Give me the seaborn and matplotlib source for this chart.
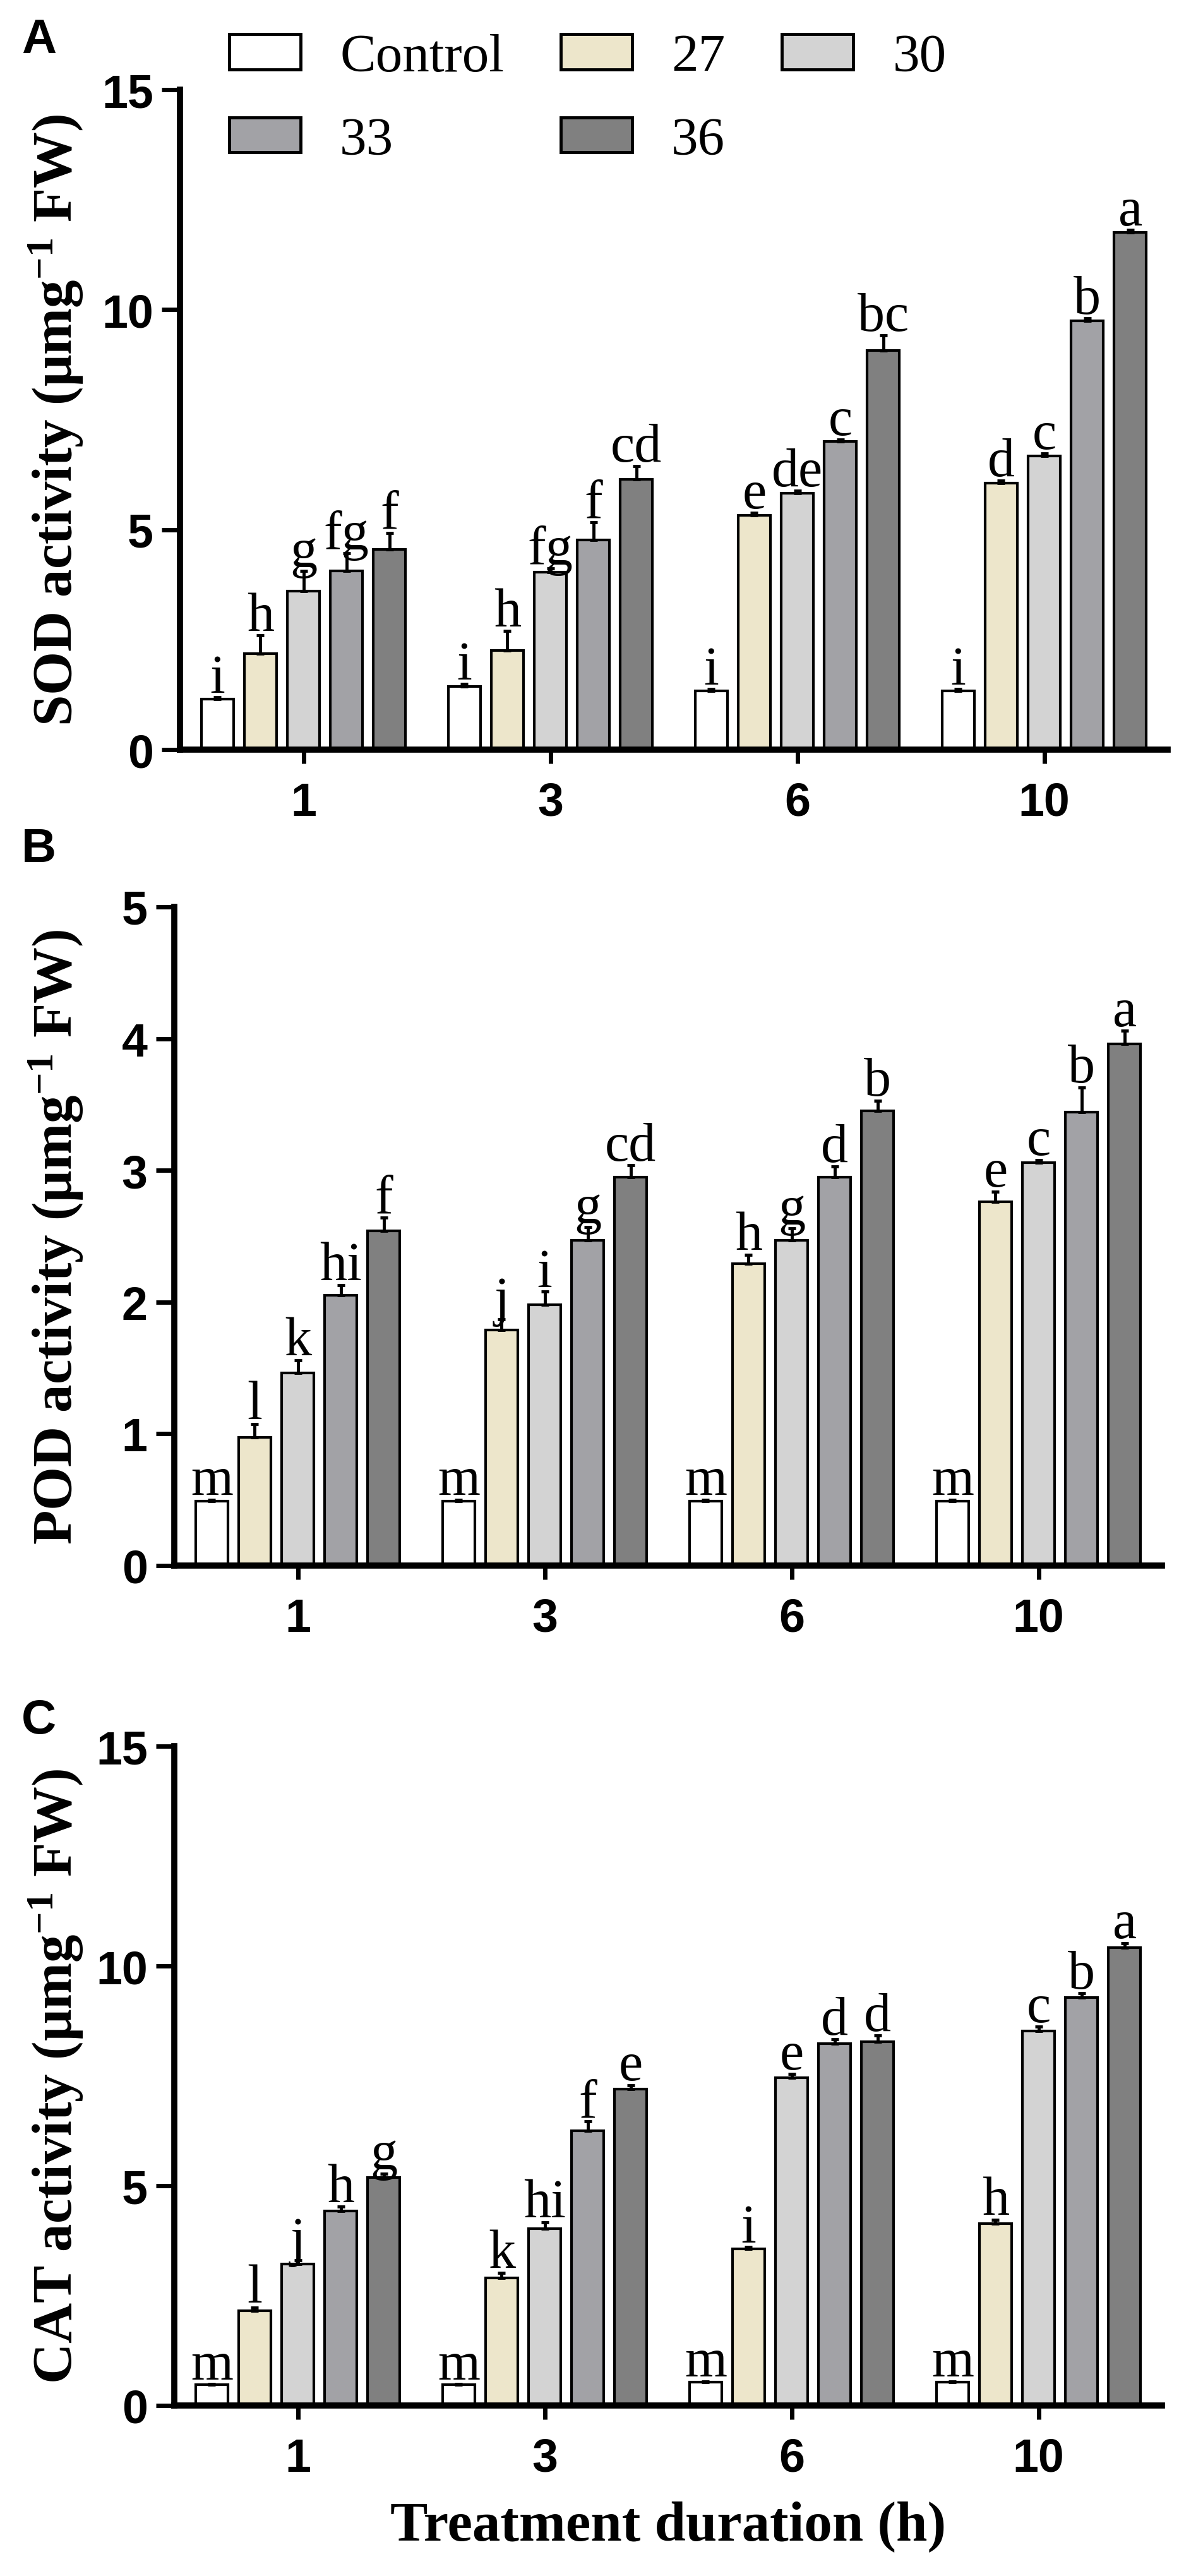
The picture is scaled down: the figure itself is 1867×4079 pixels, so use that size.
import matplotlib
matplotlib.use("Agg")
import matplotlib.pyplot as plt
import matplotlib.transforms as mtransforms
from matplotlib.patches import Patch
from matplotlib.font_manager import FontProperties
import numpy as np
import pandas as pd
import seaborn as sns

# ---------------- data ----------------
times = ["1", "3", "6", "10"]
temps = ["Control", "27", "30", "33", "36"]
colors = ["#FFFFFF", "#EDE6CB", "#D3D3D3", "#A2A2A6", "#808080"]

# SOD activity (series = temperature, values over times 1,3,6,10 h)
sod_control = [1.15, 1.44, 1.34, 1.34]
sod_27 = [2.18, 2.26, 5.33, 6.06]
sod_30 = [3.60, 4.03, 5.83, 6.68]
sod_33 = [4.06, 4.76, 7.00, 9.75]
sod_36 = [4.55, 6.14, 9.07, 11.76]
sod_err_control = [0.04, 0.05, 0.04, 0.04]
sod_err_27 = [0.42, 0.44, 0.05, 0.05]
sod_err_30 = [0.46, 0.09, 0.05, 0.05]
sod_err_33 = [0.40, 0.41, 0.05, 0.05]
sod_err_36 = [0.38, 0.30, 0.34, 0.05]
sod_let_control = ["i", "i", "i", "i"]
sod_let_27 = ["h", "h", "e", "d"]
sod_let_30 = ["g", "fg", "de", "c"]
sod_let_33 = ["fg", "f", "c", "b"]
sod_let_36 = ["f", "cd", "bc", "a"]

# POD activity
pod_control = [0.49, 0.49, 0.49, 0.49]
pod_27 = [0.975, 1.79, 2.29, 2.76]
pod_30 = [1.46, 1.98, 2.47, 3.06]
pod_33 = [2.05, 2.47, 2.95, 3.44]
pod_36 = [2.54, 2.95, 3.45, 3.96]
pod_err_control = [0.01, 0.01, 0.01, 0.01]
pod_err_27 = [0.10, 0.08, 0.07, 0.08]
pod_err_30 = [0.10, 0.10, 0.09, 0.02]
pod_err_33 = [0.08, 0.10, 0.08, 0.19]
pod_err_36 = [0.10, 0.09, 0.08, 0.10]
pod_let_control = ["m", "m", "m", "m"]
pod_let_27 = ["l", "j", "h", "e"]
pod_let_30 = ["k", "i", "g", "c"]
pod_let_33 = ["hi", "g", "d", "b"]
pod_let_36 = ["f", "cd", "b", "a"]

# CAT activity
cat_control = [0.47, 0.47, 0.53, 0.53]
cat_27 = [2.15, 2.90, 3.57, 4.14]
cat_30 = [3.22, 4.02, 7.45, 8.52]
cat_33 = [4.42, 6.25, 8.23, 9.28]
cat_36 = [5.18, 7.20, 8.27, 10.42]
cat_err_control = [0.02, 0.02, 0.02, 0.02]
cat_err_27 = [0.08, 0.12, 0.03, 0.09]
cat_err_30 = [0.09, 0.15, 0.09, 0.10]
cat_err_33 = [0.10, 0.21, 0.10, 0.10]
cat_err_36 = [0.10, 0.09, 0.15, 0.10]
cat_let_control = ["m", "m", "m", "m"]
cat_let_27 = ["l", "k", "i", "h"]
cat_let_30 = ["j", "hi", "e", "c"]
cat_let_33 = ["h", "f", "d", "b"]
cat_let_36 = ["g", "e", "d", "a"]

panels = [
    dict(tag="A", name="SOD",
         means=[sod_control, sod_27, sod_30, sod_33, sod_36],
         errs=[sod_err_control, sod_err_27, sod_err_30, sod_err_33, sod_err_36],
         lets=[sod_let_control, sod_let_27, sod_let_30, sod_let_33, sod_let_36],
         ymax=15, yticks=[0, 5, 10, 15]),
    dict(tag="B", name="POD",
         means=[pod_control, pod_27, pod_30, pod_33, pod_36],
         errs=[pod_err_control, pod_err_27, pod_err_30, pod_err_33, pod_err_36],
         lets=[pod_let_control, pod_let_27, pod_let_30, pod_let_33, pod_let_36],
         ymax=5, yticks=[0, 1, 2, 3, 4, 5]),
    dict(tag="C", name="CAT",
         means=[cat_control, cat_27, cat_30, cat_33, cat_36],
         errs=[cat_err_control, cat_err_27, cat_err_30, cat_err_33, cat_err_36],
         lets=[cat_let_control, cat_let_27, cat_let_30, cat_let_33, cat_let_36],
         ymax=15, yticks=[0, 5, 10, 15]),
]

# ---------------- style ----------------
sns.set_style("ticks")
plt.rcParams["font.family"] = ["Liberation Sans", "DejaVu Sans"]
plt.rcParams["text.color"] = "black"
plt.rcParams["axes.labelcolor"] = "black"
plt.rcParams["axes.edgecolor"] = "black"
plt.rcParams["xtick.color"] = "black"
plt.rcParams["ytick.color"] = "black"
plt.rcParams["mathtext.fontset"] = "custom"
plt.rcParams["mathtext.rm"] = "Liberation Serif:bold"
plt.rcParams["mathtext.bf"] = "Liberation Serif:bold"
plt.rcParams["mathtext.it"] = "Liberation Serif:bold"

W, H = 1867, 4080
fig = plt.figure(figsize=(W / 100, H / 100), dpi=100)

# axes boxes in pixels (left, right, top, bottom) measured top-down
boxes = [(285, 1849, 143, 1188), (276, 1840, 1437, 2480), (276, 1840, 2766, 3810)]
label_tops = [29, 1310, 2690]

serif = ["Liberation Serif", "DejaVu Serif"]
sans = ["Liberation Sans", "DejaVu Sans"]

for p, (l, r, t, b), lt in zip(panels, boxes, label_tops):
    ax = fig.add_axes([l / W, 1 - b / H, (r - l) / W, (b - t) / H])
    rows = []
    for temp, series in zip(temps, p["means"]):
        for tm, v in zip(times, series):
            rows.append({"time": tm, "temp": temp, "value": v})
    df = pd.DataFrame(rows)
    sns.barplot(data=df, x="time", y="value", hue="temp", order=times,
                hue_order=temps, palette=colors, saturation=1,
                edgecolor="black", linewidth=3.0, width=0.87, gap=0.25,
                errorbar=None, legend=False, ax=ax, zorder=2)
    bar_conts = list(ax.containers)
    for cont, errs, lets in zip(bar_conts, p["errs"], p["lets"]):
        xs = [bb.get_x() + bb.get_width() / 2 for bb in cont]
        hs = [bb.get_height() for bb in cont]
        ax.errorbar(xs, hs, yerr=[np.zeros(len(errs)), errs], fmt="none",
                    ecolor="black", elinewidth=3.5, capsize=4.5,
                    capthick=3.5, zorder=3)
        for x, h, e, lab in zip(xs, hs, errs, lets):
            ax.annotate(lab, (x, h + e), xytext=(0, 6),
                        textcoords="offset points", ha="center",
                        va="baseline", fontsize=62, family=serif,
                        color="black")

    ax.set_xlim(-0.5, 3.5)
    ax.set_ylim(0, p["ymax"])
    ax.set_yticks(p["yticks"])
    sns.despine(ax=ax)
    for s in ["left", "bottom"]:
        ax.spines[s].set_linewidth(7)
        ax.spines[s].set_color("black")
    ax.tick_params(axis="y", length=21, width=5, pad=9.5, labelsize=53,
                   color="black", labelcolor="black")
    ax.tick_params(axis="x", length=16, width=5, pad=20, labelsize=53,
                   color="black", labelcolor="black")
    for lbl in ax.get_xticklabels() + ax.get_yticklabels():
        lbl.set_fontweight("bold")
        lbl.set_family(sans)

    ax.set_ylabel(p["name"] + r" activity (μmg$^{\mathbf{-1}}$ FW)",
                  fontsize=64, fontweight="bold", family=serif, color="black")
    ax.yaxis.set_label_coords(
        135 / W, 0.5,
        transform=mtransforms.blended_transform_factory(fig.transFigure, ax.transAxes))
    if p["tag"] == "C":
        ax.set_xlabel("Treatment duration (h)", fontsize=64,
                      fontweight="bold", family=serif, color="black")
        ax.xaxis.set_label_coords(
            0.5, 1 - 3960 / H,
            transform=mtransforms.blended_transform_factory(ax.transAxes, fig.transFigure))
    else:
        ax.set_xlabel("")

    fig.text(34 / W, 1 - lt / H, p["tag"], ha="left", va="top",
             fontsize=55, fontweight="bold", family=sans, color="black")

# legend
handles = [Patch(facecolor=c, edgecolor="black", linewidth=3.5) for c in colors]
order = [0, 3, 1, 4, 2]
F = 85
fig.legend([handles[i] for i in order], [temps[i] for i in order], ncol=3,
           loc="upper left", bbox_to_anchor=(363 / W, 1 - 54 / H),
           frameon=False, prop=FontProperties(family=serif, size=F * 0.72),
           handlelength=113 / F, handleheight=54 / F, handletextpad=62 / F,
           columnspacing=90 / F, labelspacing=0.64, borderpad=0,
           borderaxespad=0, labelcolor="black")

fig.savefig("out.png", dpi=100)
